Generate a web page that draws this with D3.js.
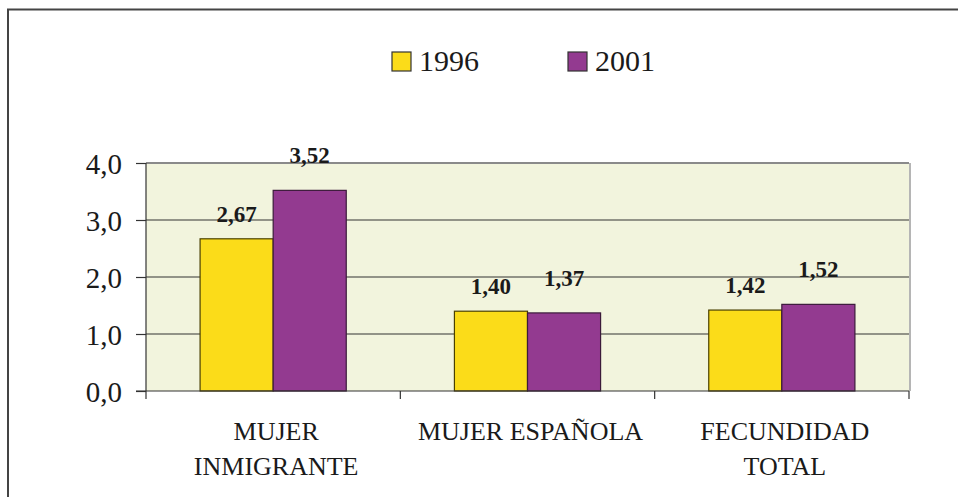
<!DOCTYPE html>
<html>
<head>
<meta charset="utf-8">
<script src="https://cdn.jsdelivr.net/npm/d3@7"></script>
<style>
  body { margin: 0; background: #fff; }
  svg text { font-family: "Liberation Serif", "Times New Roman", serif; fill: #1a1a1a; }
</style>
</head>
<body>
<div id="chart"></div>
<script>
// --- data ---
const categories = [["MUJER", "INMIGRANTE"], ["MUJER ESPAÑOLA"], ["FECUNDIDAD", "TOTAL"]];
const series = ["1996", "2001"];
const values1996 = [2.67, 1.40, 1.42];
const values2001 = [3.52, 1.37, 1.52];
const yTicks = [0, 1, 2, 3, 4];

const colors = { "1996": "#FBDC19", "2001": "#933A90" };
const strokes = { "1996": "#4a4000", "2001": "#3b1a3a" };
const labelLift = { "1996": 17, "2001": 27 };

const width = 958, height = 497;
const margin = { top: 163, right: 49, bottom: 106, left: 146 };

const svg = d3.select("#chart").append("svg")
  .attr("width", width)
  .attr("height", height);

// outer frame (top + left only)
svg.append("path")
  .attr("d", `M8,${height} L8,9.5 L${width},9.5`)
  .attr("fill", "none")
  .attr("stroke", "#444")
  .attr("stroke-width", 2);

const catKeys = categories.map(c => c.join(" "));
const rows = catKeys.map((k, i) => ({ cat: k, "1996": values1996[i], "2001": values2001[i] }));

const x = d3.scaleBand()
  .domain(catKeys)
  .range([margin.left, width - margin.right]);

const xInner = d3.scaleBand()
  .domain(series)
  .range([0, x.bandwidth()])
  .paddingOuter(0.74)
  .paddingInner(0);

const y = d3.scaleLinear()
  .domain([0, 4])
  .range([height - margin.bottom, margin.top]);

// plot background
svg.append("rect")
  .attr("x", margin.left)
  .attr("y", y(4))
  .attr("width", x.range()[1] - margin.left)
  .attr("height", y(0) - y(4))
  .attr("fill", "#F2F4DD");

// right shade
svg.append("line")
  .attr("x1", x.range()[1] + 1).attr("x2", x.range()[1] + 1)
  .attr("y1", y(4)).attr("y2", y(0))
  .attr("stroke", "#b5b5b5").attr("stroke-width", 2);

// gridlines
svg.append("g")
  .selectAll("line")
  .data(yTicks.filter(d => d > 0))
  .join("line")
    .attr("x1", margin.left).attr("x2", x.range()[1])
    .attr("y1", d => y(d)).attr("y2", d => y(d))
    .attr("stroke", d => d === 4 ? "#8a8a8a" : "#333")
    .attr("stroke-width", d => d === 4 ? 2 : 1.2);

// bars
const groups = svg.append("g").selectAll("g")
  .data(rows)
  .join("g")
    .attr("transform", d => `translate(${x(d.cat)},0)`);

groups.selectAll("rect")
  .data(d => series.map(s => ({ s, v: d[s] })))
  .join("rect")
    .attr("x", d => xInner(d.s))
    .attr("y", d => y(d.v))
    .attr("width", xInner.bandwidth())
    .attr("height", d => y(0) - y(d.v))
    .attr("fill", d => colors[d.s])
    .attr("stroke", d => strokes[d.s])
    .attr("stroke-width", 1.2);

groups.selectAll("text.val")
  .data(d => series.map(s => ({ s, v: d[s] })))
  .join("text")
    .attr("class", "val")
    .attr("x", d => xInner(d.s) + xInner.bandwidth() / 2)
    .attr("y", d => y(d.v) - labelLift[d.s])
    .attr("text-anchor", "middle")
    .attr("font-size", 23)
    .attr("font-weight", "bold")
    .text(d => d3.format(".2f")(d.v).replace(".", ","));

// y axis
const yAxis = svg.append("g")
  .attr("transform", `translate(${margin.left},0)`)
  .call(d3.axisLeft(y).tickValues(yTicks).tickSize(10).tickPadding(14)
    .tickFormat(d => d3.format(".1f")(d).replace(".", ",")));
yAxis.select(".domain").attr("stroke", "#333").attr("stroke-width", 1.2)
  .attr("d", `M0,${y(4)}V${y(0) + 8}`);
yAxis.selectAll(".tick line").attr("stroke", "#333").attr("stroke-width", 1.2);
yAxis.selectAll(".tick text").attr("font-size", 29).attr("dy", "0.36em");

// x axis
const xAxis = svg.append("g")
  .attr("transform", `translate(0,${y(0)})`);
xAxis.append("line")
  .attr("x1", margin.left - 10).attr("x2", x.range()[1])
  .attr("stroke", "#333").attr("stroke-width", 1.2);
xAxis.selectAll("line.sep")
  .data(catKeys.slice(1).map(k => x(k)).concat([x.range()[1]]))
  .join("line")
    .attr("class", "sep")
    .attr("x1", d => d).attr("x2", d => d)
    .attr("y1", 0).attr("y2", 8)
    .attr("stroke", "#333").attr("stroke-width", 1.2);

xAxis.selectAll("text.cat")
  .data(categories)
  .join("text")
    .attr("class", "cat")
    .attr("text-anchor", "middle")
    .attr("font-size", 26)
    .attr("transform", (d, i) => `translate(${x(catKeys[i]) + x.bandwidth() / 2 + 3},0)`)
    .selectAll("tspan")
    .data(d => d)
    .join("tspan")
      .attr("x", 0)
      .attr("y", (d, i) => 49 + i * 35)
      .text(d => d);

// legend
const legend = svg.append("g").selectAll("g")
  .data(series)
  .join("g")
    .attr("transform", (d, i) => `translate(${392 + i * 176},52)`);
legend.append("rect")
  .attr("width", 19).attr("height", 19)
  .attr("fill", d => colors[d])
  .attr("stroke", "#333").attr("stroke-width", 1.2);
legend.append("text")
  .attr("x", 27).attr("y", 19)
  .attr("font-size", 30)
  .text(d => d);
</script>
</body>
</html>
